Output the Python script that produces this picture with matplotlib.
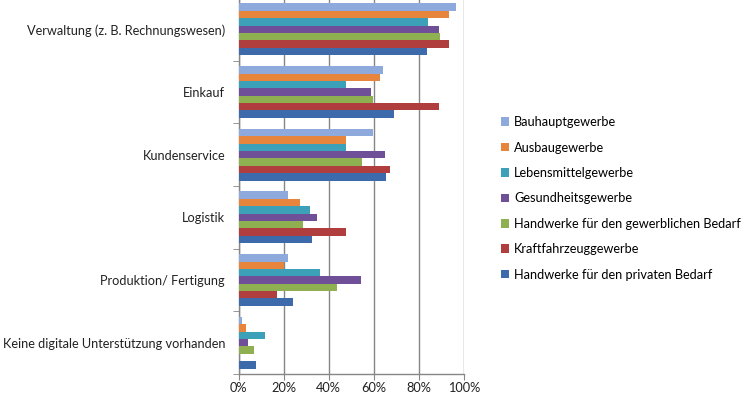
import matplotlib
matplotlib.use("Agg")
import matplotlib.pyplot as plt
import numpy as np

categories = ["Verwaltung (z. B. Rechnungswesen)", "Einkauf", "Kundenservice",
              "Logistik", "Produktion/ Fertigung", "Keine digitale Unterstützung vorhanden"]
series_names = ["Bauhauptgewerbe", "Ausbaugewerbe", "Lebensmittelgewerbe",
                "Gesundheitsgewerbe", "Handwerke für den gewerblichen Bedarf",
                "Kraftfahrzeuggewerbe", "Handwerke für den privaten Bedarf"]
bauhaupt = [96.6, 64.3, 59.8, 21.8, 21.8, 1.5]
ausbau = [93.3, 62.8, 47.5, 27.1, 20.3, 3.1]
lebensmittel = [84.0, 47.7, 47.8, 31.8, 36.0, 11.7]
gesundheit = [89.0, 58.7, 65.0, 34.7, 54.4, 4.0]
gewerblich = [89.6, 59.8, 54.9, 28.6, 43.5, 6.7]
kfz = [93.5, 89.0, 67.2, 47.7, 17.2, 0.0]
privat = [83.5, 68.9, 65.3, 32.6, 24.0, 7.6]
colors = ["#8EA9DB", "#E8853D", "#3CA0B8", "#6E4F98", "#8EB050", "#B03E3E", "#3C6AAA"]

series = [bauhaupt, ausbau, lebensmittel, gesundheit, gewerblich, kfz, privat]

plt.rcParams['font.family'] = ['Lato', 'DejaVu Sans']

W, H = 750, 395
fig = plt.figure(figsize=(W / 100, H / 100), dpi=100)
left, right = 238.7, 463.7
top, bottom = -2.0, 374.0
ax = fig.add_axes([left / W, (H - bottom) / H, (right - left) / W, (bottom - top) / H])

n = len(series)
bh = 0.118
y = np.arange(len(categories))
for j, (vals, c, name) in enumerate(zip(series, colors, series_names)):
    ax.barh(y + (j - (n - 1) / 2) * bh, vals, height=bh, color=c, label=name, zorder=3)

fs = 9.2
ax.set_xlim(0, 100)
ax.set_ylim(len(categories) - 0.5, -0.5)
ax.set_xticks(np.arange(0, 101, 20))
ax.set_xticklabels([f"{v}%" for v in range(0, 101, 20)])
ax.set_yticks(y)
ax.set_yticklabels(categories)
ax.set_yticks(np.arange(-0.5, len(categories), 1), minor=True)
ax.tick_params(axis='y', which='major', length=0, pad=9.8, labelsize=fs, labelcolor='#222222')
ax.tick_params(axis='y', which='minor', length=4, color='#868686', direction='out')
ax.tick_params(axis='x', length=4, color='#868686', labelsize=fs, pad=2, labelcolor='#222222')
ax.grid(axis='x', color='#868686', linewidth=1.0, zorder=0)
for s in ['top', 'right']:
    ax.spines[s].set_visible(False)
for s in ['left', 'bottom']:
    ax.spines[s].set_color('#868686')
    ax.spines[s].set_linewidth(1.0)

handles, labels = ax.get_legend_handles_labels()
fig.legend(handles, labels, loc='upper left', bbox_to_anchor=(496 / W, 1 - 111 / H),
           frameon=False, fontsize=fs, handlelength=0.65, handleheight=0.65,
           handletextpad=0.35, labelspacing=1.05, borderaxespad=0)

fig.savefig("out.png", dpi=100)
